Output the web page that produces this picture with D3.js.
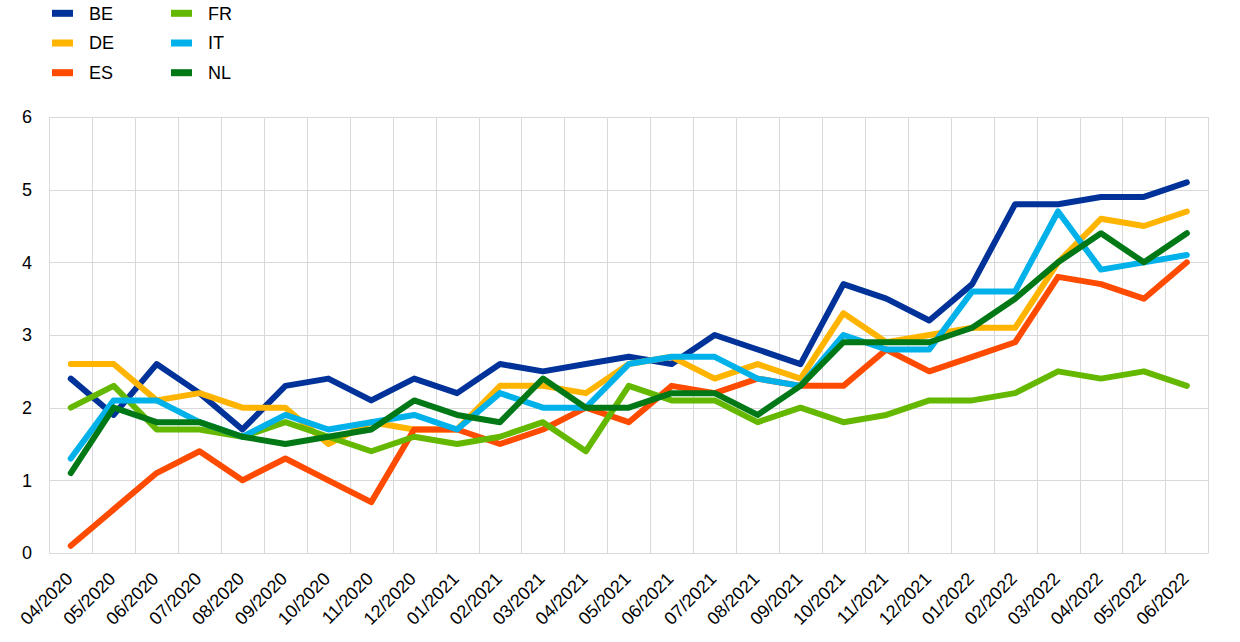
<!DOCTYPE html>
<html>
<head>
<meta charset="utf-8">
<script src="https://cdn.jsdelivr.net/npm/d3@7/dist/d3.min.js"></script>
<style>
  html, body { margin: 0; padding: 0; background: #fff; }
  svg { display: block; font-family: "Liberation Sans", Arial, sans-serif; }
</style>
</head>
<body>
<svg id="chart" width="1240" height="642"></svg>
<script>
const months = ["04/2020","05/2020","06/2020","07/2020","08/2020","09/2020","10/2020","11/2020","12/2020",
  "01/2021","02/2021","03/2021","04/2021","05/2021","06/2021","07/2021","08/2021","09/2021","10/2021",
  "11/2021","12/2021","01/2022","02/2022","03/2022","04/2022","05/2022","06/2022"];

const seriesNames = ["BE","DE","ES","FR","IT","NL"];
const seriesColors = ["#003299","#FFB400","#FF4B00","#65B800","#00B1EA","#007816"];

const BE = [2.4,1.9,2.6,2.2,1.7,2.3,2.4,2.1,2.4,2.2,2.6,2.5,2.6,2.7,2.6,3.0,2.8,2.6,3.7,3.5,3.2,3.7,4.8,4.8,4.9,4.9,5.1];
const DE = [2.6,2.6,2.1,2.2,2.0,2.0,1.5,1.8,1.7,1.7,2.3,2.3,2.2,2.6,2.7,2.4,2.6,2.4,3.3,2.9,3.0,3.1,3.1,4.0,4.6,4.5,4.7];
const ES = [0.1,0.6,1.1,1.4,1.0,1.3,1.0,0.7,1.7,1.7,1.5,1.7,2.0,1.8,2.3,2.2,2.4,2.3,2.3,2.8,2.5,2.7,2.9,3.8,3.7,3.5,4.0];
const FR = [2.0,2.3,1.7,1.7,1.6,1.8,1.6,1.4,1.6,1.5,1.6,1.8,1.4,2.3,2.1,2.1,1.8,2.0,1.8,1.9,2.1,2.1,2.2,2.5,2.4,2.5,2.3];
const IT = [1.3,2.1,2.1,1.8,1.6,1.9,1.7,1.8,1.9,1.7,2.2,2.0,2.0,2.6,2.7,2.7,2.4,2.3,3.0,2.8,2.8,3.6,3.6,4.7,3.9,4.0,4.1];
const NL = [1.1,2.0,1.8,1.8,1.6,1.5,1.6,1.7,2.1,1.9,1.8,2.4,2.0,2.0,2.2,2.2,1.9,2.3,2.9,2.9,2.9,3.1,3.5,4.0,4.4,4.0,4.4];

const yTicks = [0,1,2,3,4,5,6];

const seriesValues = [BE, DE, ES, FR, IT, NL];

const svg = d3.select("#chart");
const plot = { left: 49.3, right: 1208.3, top: 117, bottom: 553 };

const x = d3.scaleBand().domain(months).range([plot.left, plot.right]).paddingInner(0).paddingOuter(0);
const y = d3.scaleLinear().domain([0, 6]).range([plot.bottom, plot.top]);

const gridColor = "#d9d9d9";

// horizontal gridlines
svg.append("g").selectAll("line").data(yTicks).join("line")
  .attr("x1", plot.left).attr("x2", plot.right)
  .attr("y1", d => Math.round(y(d)) + 0.5).attr("y2", d => Math.round(y(d)) + 0.5)
  .attr("stroke", gridColor).attr("stroke-width", 1);

// vertical gridlines at band boundaries
const bounds = months.map(m => x(m)).concat([plot.right]);
svg.append("g").selectAll("line").data(bounds).join("line")
  .attr("x1", d => Math.round(d) + 0.5).attr("x2", d => Math.round(d) + 0.5)
  .attr("y1", plot.top).attr("y2", plot.bottom)
  .attr("stroke", gridColor).attr("stroke-width", 1);

// y-axis labels
svg.append("g").selectAll("text").data(yTicks).join("text")
  .attr("x", 32).attr("y", d => y(d))
  .attr("dy", "0.35em")
  .attr("text-anchor", "end")
  .attr("font-size", 18).attr("fill", "#000")
  .text(d => d);

// x-axis labels
svg.append("g").selectAll("text").data(months).join("text")
  .attr("text-anchor", "end")
  .attr("font-size", 18).attr("fill", "#000")
  .attr("transform", d => `translate(${x(d) + x.bandwidth() / 2 - 1.5},${plot.bottom + 22.5}) rotate(-45)`)
  .attr("dy", "0.35em")
  .text(d => d);

// lines
const line = d3.line()
  .x((d, i) => x(months[i]) + x.bandwidth() / 2)
  .y(d => y(d));

svg.append("g").selectAll("path").data(seriesValues).join("path")
  .attr("d", d => line(d))
  .attr("fill", "none")
  .attr("stroke", (d, i) => seriesColors[i])
  .attr("stroke-width", 6)
  .attr("stroke-linejoin", "round")
  .attr("stroke-linecap", "round");

// legend
const legend = svg.append("g");
seriesNames.forEach((name, i) => {
  const col = Math.floor(i / 3), row = i % 3;
  const lx = 52 + col * 119, ly = 13.3 + row * 29.7;
  legend.append("rect")
    .attr("x", lx).attr("y", ly - 3.5).attr("width", 21).attr("height", 7)
    .attr("fill", seriesColors[i]);
  legend.append("text")
    .attr("x", lx + 37).attr("y", ly).attr("dy", "0.35em")
    .attr("font-size", 18).attr("fill", "#000")
    .text(name);
});
</script>
</body>
</html>
